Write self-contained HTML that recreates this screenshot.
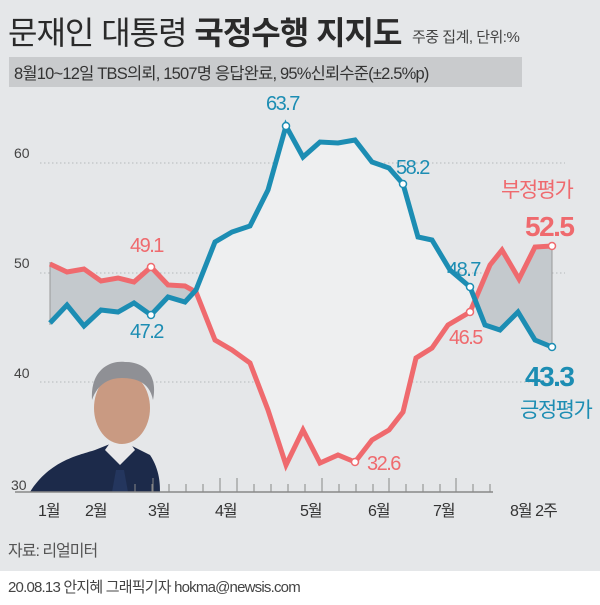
<!DOCTYPE html><html><head><meta charset="utf-8"><style>
body{margin:0;width:600px;height:605px;overflow:hidden;background:#e5e7e9;font-family:"Liberation Sans","Noto Sans CJK KR",sans-serif}
</style></head><body>
<svg width="600" height="605" xmlns="http://www.w3.org/2000/svg" style="position:absolute;left:0;top:0" font-family="Liberation Sans, Noto Sans CJK KR, sans-serif">
<rect width="600" height="605" fill="#e5e7e9"/>
<rect y="571" width="600" height="34" fill="#fff"/>
<text x="8" y="44" font-size="32" fill="#2a2a2a" letter-spacing="-1">문재인 대통령 <tspan font-weight="bold">국정수행 지지도</tspan></text>
<text x="412" y="42" font-size="15" fill="#444" letter-spacing="-0.5">주중 집계, 단위:%</text>
<rect x="9" y="57" width="513" height="30" fill="#c9cbcd"/>
<text x="14" y="79" font-size="16.5" fill="#333" letter-spacing="-0.8">8월10~12일 TBS의뢰, 1507명 응답완료, 95%신뢰수준(±2.5%p)</text>
<g stroke="#b5b9bc" stroke-dasharray="1.5,2.5" stroke-width="1">
<line x1="40" y1="163" x2="565" y2="163"/><line x1="40" y1="273" x2="565" y2="273"/><line x1="40" y1="382" x2="565" y2="382"/></g>
<g font-size="14" fill="#444"><text x="14" y="158">60</text><text x="14" y="268">50</text><text x="14" y="378">40</text><text x="11" y="490">30</text></g>
<defs>
<clipPath id="l"><rect x="0" y="0" width="197" height="600"/><rect x="476" y="0" width="200" height="600"/></clipPath>
<clipPath id="m"><rect x="197" y="0" width="279" height="600"/></clipPath>
<polygon id="pg" points="50,264 67,272 84,269 101,281 118,278 134,282 151,267 168,285 185,286 196,292 215,340 232,350 250,363 268,410 286,465 303,430 320,463 338,455 355,462 372,440 389,430 403,412 416,358 432,348 448,325 470,312 490,265 502,250 519,279 535,247 552,246 552,347 535,340 518,312 500,330 485,325 470,287 450,270 432,240 418,237 403,184 389,168 372,162 355,140 338,143 320,142 303,157 286,126 268,190 250,226 232,232 215,242 196,290 185,302 168,297 151,315 134,303 118,312 101,310 84,326 67,305 50,323"/>
</defs>
<use href="#pg" clip-path="url(#l)" fill="#c4c9cd"/>
<use href="#pg" clip-path="url(#m)" fill="#eeeff0"/>
<line x1="50" y1="262" x2="50" y2="325" stroke="#999" stroke-width="1"/>
<line x1="552" y1="244" x2="552" y2="349" stroke="#999" stroke-width="1"/>
<polyline fill="none" stroke="#ef6a6e" stroke-width="5" points="50,264 67,272 84,269 101,281 118,278 134,282 151,267 168,285 185,286 196,292 215,340 232,350 250,363 268,410 286,465 303,430 320,463 338,455 355,462 372,440 389,430 403,412 416,358 432,348 448,325 470,312 490,265 502,250 519,279 535,247 552,246"/>
<polyline fill="none" stroke="#1c8db3" stroke-width="5" points="50,323 67,305 84,326 101,310 118,312 134,303 151,315 168,297 185,302 196,290 215,242 232,232 250,226 268,190 286,126 303,157 320,142 338,143 355,140 372,162 389,168 403,184 418,237 432,240 450,270 470,287 485,325 500,330 518,312 535,340 552,347"/>
<g fill="#fff" stroke-width="1.5">
<circle cx="151" cy="267" r="3.5" stroke="#ef6a6e"/><circle cx="355" cy="462" r="3.5" stroke="#ef6a6e"/><circle cx="470" cy="312" r="3.5" stroke="#ef6a6e"/><circle cx="552" cy="246" r="3.5" stroke="#ef6a6e"/>
<circle cx="151" cy="315" r="3.5" stroke="#1c8db3"/><circle cx="286" cy="126" r="3.5" stroke="#1c8db3"/><circle cx="403" cy="184" r="3.5" stroke="#1c8db3"/><circle cx="470" cy="287" r="3.5" stroke="#1c8db3"/><circle cx="552" cy="347" r="3.5" stroke="#1c8db3"/>
</g>
<g font-size="20" fill="#1c8db3" letter-spacing="-1.5">
<text x="266" y="110">63.7</text><text x="396" y="174">58.2</text><text x="447" y="276">48.7</text><text x="130" y="338">47.2</text>
<text x="525" y="386" font-size="28" font-weight="bold">43.3</text><text x="520" y="417" font-size="21">긍정평가</text></g>
<g font-size="20" fill="#ef6a6e" letter-spacing="-1.5">
<text x="130" y="252">49.1</text><text x="449" y="344">46.5</text><text x="367" y="470">32.6</text>
<text x="501" y="197" font-size="21">부정평가</text><text x="525" y="236" font-size="28" font-weight="bold">52.5</text></g>
<g>
<path d="M30,492 C50,460 80,455 95,450 L120,440 L150,455 C160,470 160,485 160,492 Z" fill="#1c2a4a"/>
<path d="M105,450 L120,465 L135,450 L128,440 L112,440 Z" fill="#e8e8ea"/>
<path d="M116,470 L124,470 L128,492 L112,492 Z" fill="#24365e"/>
<ellipse cx="122" cy="408" rx="28" ry="36" fill="#c99a82"/>
<path d="M92,400 C90,370 110,360 125,362 C145,362 158,375 153,400 C150,385 140,378 122,378 C105,378 96,388 92,400 Z" fill="#8f9095"/>
</g>
<line x1="15" y1="492" x2="493" y2="492" stroke="#888" stroke-width="1.5"/>
<g stroke="#888" stroke-width="1">
<path d="M135,492v-8M152,492v-8M169,492v-8M186,492v-8M203,492v-8M220,492v-8M237,492v-14M254,492v-8M271,492v-8M288,492v-8M305,492v-8M322,492v-14M339,492v-8M356,492v-8M373,492v-8M389,492v-14M406,492v-8M423,492v-8M440,492v-8M456,492v-14M473,492v-8M490,492v-8M153,492v-14M220,492v-14"/></g>
<g font-size="16" fill="#333" letter-spacing="-1"><text x="38" y="516">1월</text><text x="85" y="516">2월</text><text x="148" y="516">3월</text><text x="215" y="516">4월</text><text x="300" y="516">5월</text><text x="368" y="516">6월</text><text x="433" y="516">7월</text><text x="510" y="516">8월 2주</text></g>
<text x="8" y="556" font-size="16" fill="#555" letter-spacing="-1">자료: 리얼미터</text>
<text x="8" y="592" font-size="15" fill="#444" letter-spacing="-0.8">20.08.13 안지혜 그래픽기자 hokma@newsis.com</text>
</svg>
</body></html>
